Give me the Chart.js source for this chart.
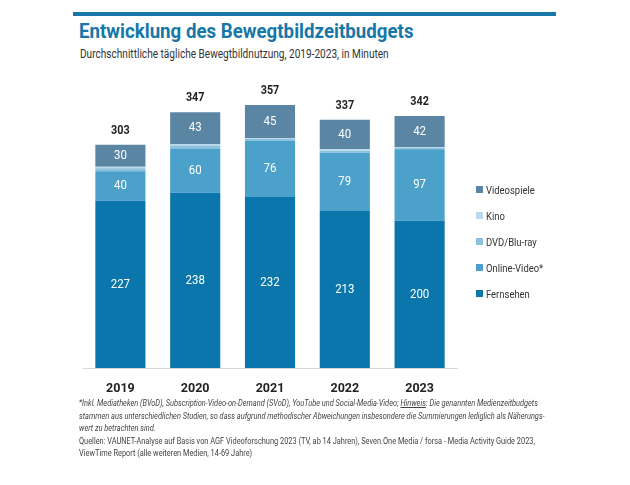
<!DOCTYPE html>
<html>
<head>
<meta charset="utf-8">
<script src="https://cdn.jsdelivr.net/npm/chart.js@4"></script>
<style>
  body { margin: 0; background: #fff; font-family: Roboto, sans-serif; }
  #page { position: relative; width: 630px; height: 485px; overflow: hidden; }
  #topline { position: absolute; left: 73px; top: 12px; width: 483px; height: 4px; background: #1677a8; }
  .narrow { transform-origin: 0 0; white-space: nowrap; }
  #title { position: absolute; left: 79px; top: 19px; font-size: 21px; font-weight: bold; color: #1677a8; transform: scaleX(0.89); }
  #subtitle { position: absolute; left: 80px; top: 47px; font-size: 12px; color: #333; transform: scaleX(0.84); }
  #chartbox { position: absolute; left: 0; top: 0; width: 630px; height: 420px; }
  #legend { position: absolute; left: 476px; top: 182px; font-size: 11.5px; color: #333; }
  .item { height: 26px; line-height: 16px; white-space: nowrap; }
  .item span.t { display: inline-block; transform: scaleX(0.82); transform-origin: 0 50%; }
  .box { display: inline-block; width: 7px; height: 7px; margin-right: 3px; vertical-align: 1px; }
  #notes { position: absolute; left: 79px; top: 397px; font-size: 8.6px; color: #444; line-height: 12.6px; transform: scaleX(0.86); }
  #notes i { font-style: italic; }
</style>
</head>
<body>
<div id="page">
  <div id="topline"></div>
  <div id="title" class="narrow">Entwicklung des Bewegtbildzeitbudgets</div>
  <div id="subtitle" class="narrow">Durchschnittliche tägliche Bewegtbildnutzung, 2019-2023, in Minuten</div>
  <div id="chartbox"><canvas id="chart" width="630" height="420"></canvas></div>
  <div id="legend"></div>
  <div id="notes" class="narrow">
    <i>*Inkl. Mediatheken (BVoD), Subscription-Video-on-Demand (SVoD), YouTube und Social-Media-Video; <u>Hinweis</u>: Die genannten Medienzeitbudgets</i><br>
    <i>stammen aus unterschiedlichen Studien, so dass aufgrund methodischer Abweichungen insbesondere die Summierungen lediglich als Näherungs-</i><br>
    <i>wert zu betrachten sind.</i><br>
    Quellen: VAUNET-Analyse auf Basis von AGF Videoforschung 2023 (TV, ab 14 Jahren), Seven.One Media / forsa - Media Activity Guide 2023,<br>
    ViewTime Report (alle weiteren Medien, 14-69 Jahre)
  </div>
</div>
<script>
const years = ["2019", "2020", "2021", "2022", "2023"];
const fernsehen = [227, 238, 232, 213, 200];
const onlineVideo = [40, 60, 76, 79, 97];
const dvdBluray = [4, 4, 3, 3, 2];
const kino = [2, 2, 1, 2, 1];
const videospiele = [30, 43, 45, 40, 42];
const totals = [303, 347, 357, 337, 342];

const seriesNames = ["Fernsehen", "Online-Video*", "DVD/Blu-ray", "Kino", "Videospiele"];
const seriesData = [fernsehen, onlineVideo, dvdBluray, kino, videospiele];
const seriesColors = ["#0b76ab", "#4ba1ca", "#8cc2de", "#b9dbec", "#5a86a3"];
const labelled = [true, true, false, false, true];

// squeezed text, the original font is a condensed one
function narrowText(ctx, text, x, y, sx) {
  ctx.save();
  ctx.translate(x, y);
  ctx.scale(sx, 1);
  ctx.fillText(text, 0, 0);
  ctx.restore();
}

// value labels inside the segments and totals above each stack
const barLabels = {
  id: "barLabels",
  afterDatasetsDraw(chart) {
    const ctx = chart.ctx;
    ctx.save();
    ctx.textAlign = "center";
    ctx.textBaseline = "middle";
    ctx.font = "13px Roboto, sans-serif";
    ctx.fillStyle = "#fff";
    chart.data.datasets.forEach((ds, i) => {
      if (!labelled[i]) return;
      chart.getDatasetMeta(i).data.forEach((bar, j) => {
        narrowText(ctx, ds.data[j], bar.x, (bar.y + bar.base) / 2, 0.88);
      });
    });
    const top = chart.getDatasetMeta(chart.data.datasets.length - 1).data;
    ctx.font = "bold 12px Roboto, sans-serif";
    ctx.fillStyle = "#222";
    top.forEach((bar, j) => {
      narrowText(ctx, totals[j], bar.x, bar.y - 14, 0.9);
    });
    ctx.restore();
  },
};

new Chart(document.getElementById("chart"), {
  type: "bar",
  data: {
    labels: years,
    datasets: seriesNames.map((name, i) => ({
      label: name,
      data: seriesData[i],
      backgroundColor: seriesColors[i],
      borderWidth: 0,
      categoryPercentage: 1,
      barPercentage: 0.67,
    })),
  },
  options: {
    responsive: false,
    animation: false,
    layout: { padding: { left: 83, right: 173, top: 88, bottom: 19 } },
    scales: {
      x: {
        stacked: true,
        grid: { display: false },
        border: { display: true, color: "#d9d9d9" },
        ticks: {
          color: "#222",
          padding: 5,
          font: { family: "Roboto, sans-serif", size: 12.5, weight: "bold" },
        },
      },
      y: {
        stacked: true,
        display: false,
        min: 0,
        max: 380,
      },
    },
    plugins: {
      legend: { display: false },
      tooltip: { enabled: false },
    },
  },
  plugins: [barLabels],
});

// legend, top item is the top of the stack
const legend = document.getElementById("legend");
for (let i = seriesNames.length - 1; i >= 0; i--) {
  const item = document.createElement("div");
  item.className = "item";
  item.innerHTML = '<span class="box" style="background:' + seriesColors[i] + '"></span><span class="t">' + seriesNames[i] + "</span>";
  legend.appendChild(item);
}
</script>
</body>
</html>
